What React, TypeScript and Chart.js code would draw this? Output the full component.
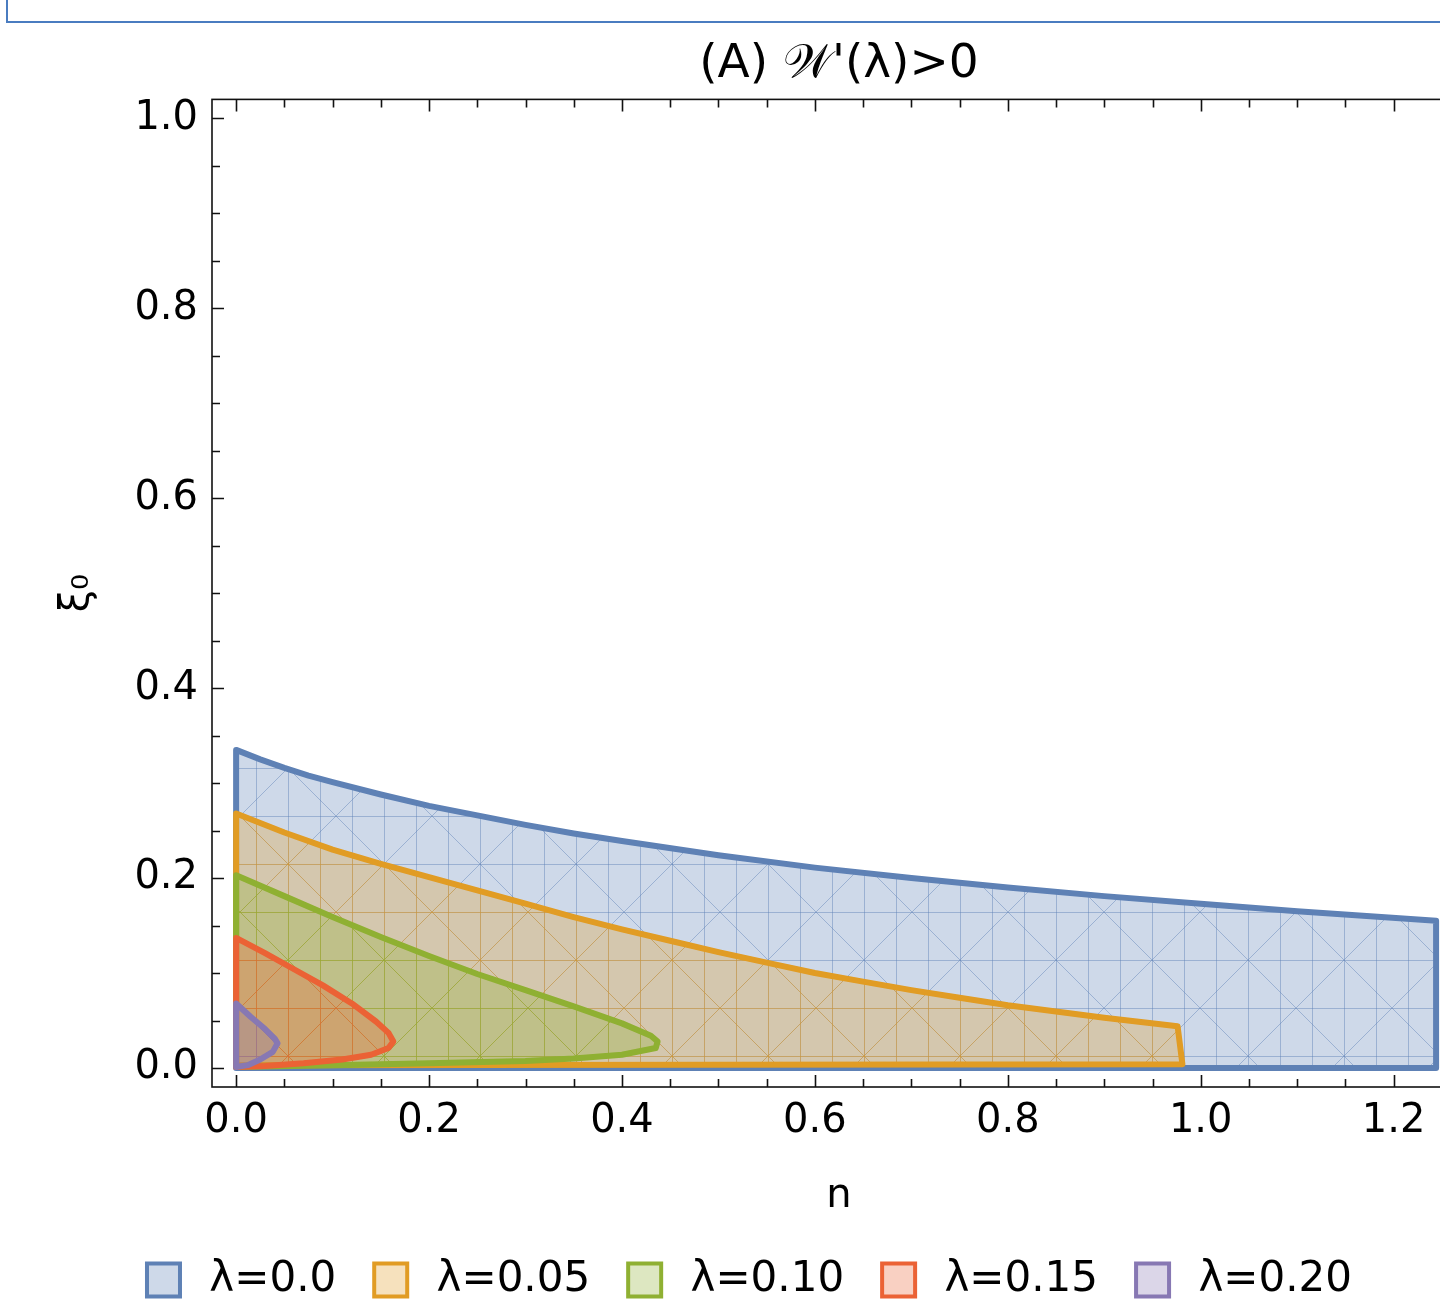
import React, { useEffect, useRef } from 'react';
import { Chart, registerables } from 'chart.js';

Chart.register(...registerables);

// ---------- data ----------
const seriesLabels = ['λ=0.0', 'λ=0.05', 'λ=0.10', 'λ=0.15', 'λ=0.20'];
const seriesColors = ['#5e81b5', '#e19c24', '#8fb032', '#eb6235', '#8778b3'];

// region outlines, (n, ξ0) pairs, traced as closed loops
const blueN = [0, 0, 0.025, 0.05, 0.075, 0.1, 0.15, 0.2, 0.25, 0.3, 0.35, 0.4, 0.5, 0.6, 0.7, 0.8, 0.9, 1.0, 1.1, 1.244, 1.244, 0];
const blueXi = [0, 0.335, 0.325, 0.316, 0.308, 0.301, 0.288, 0.276, 0.266, 0.256, 0.247, 0.239, 0.224, 0.211, 0.2, 0.19, 0.181, 0.173, 0.165, 0.155, 0, 0];

const orangeN = [0, 0, 0.025, 0.05, 0.1, 0.15, 0.2, 0.25, 0.3, 0.35, 0.4, 0.45, 0.5, 0.55, 0.6, 0.65, 0.7, 0.75, 0.8, 0.85, 0.9, 0.976, 0.981, 0];
const orangeXi = [0.003, 0.268, 0.258, 0.248, 0.23, 0.215, 0.201, 0.187, 0.173, 0.159, 0.146, 0.134, 0.122, 0.111, 0.1, 0.091, 0.082, 0.074, 0.066, 0.0595, 0.053, 0.044, 0.004, 0.003];

const greenN = [0, 0, 0.05, 0.1, 0.15, 0.2, 0.25, 0.3, 0.35, 0.4, 0.43, 0.437, 0.435, 0.4, 0.35, 0.3, 0.2, 0.1, 0];
const greenXi = [0.001, 0.203, 0.181, 0.159, 0.138, 0.118, 0.099, 0.082, 0.065, 0.047, 0.034, 0.028, 0.021, 0.014, 0.01, 0.0075, 0.005, 0.003, 0.001];

const redN = [0, 0, 0.03, 0.06, 0.09, 0.12, 0.145, 0.158, 0.163, 0.158, 0.14, 0.11, 0.07, 0.03, 0];
const redXi = [0.001, 0.137, 0.121, 0.104, 0.087, 0.068, 0.049, 0.037, 0.028, 0.021, 0.014, 0.009, 0.005, 0.002, 0.001];

const purpleN = [0, 0, 0.015, 0.03, 0.04, 0.043, 0.038, 0.025, 0.012, 0];
const purpleXi = [0.001, 0.068, 0.054, 0.041, 0.031, 0.026, 0.017, 0.009, 0.003, 0.001];

const seriesN = [blueN, orangeN, greenN, redN, purpleN];
const seriesXi = [blueXi, orangeXi, greenXi, redXi, purpleXi];

// ticks
const xMajorTicks = [0, 0.2, 0.4, 0.6, 0.8, 1.0, 1.2];
const xMinorTicks = [0.05, 0.1, 0.15, 0.25, 0.3, 0.35, 0.45, 0.5, 0.55, 0.65, 0.7, 0.75, 0.85, 0.9, 0.95, 1.05, 1.1, 1.15, 1.25];
const yMajorTicks = [0, 0.2, 0.4, 0.6, 0.8, 1.0];
const yMinorTicks = [0.05, 0.1, 0.15, 0.25, 0.3, 0.35, 0.45, 0.5, 0.55, 0.65, 0.7, 0.75, 0.85, 0.9, 0.95];

const titleText = "(A) 𝒲'(λ)>0";
const xTitle = 'n';
const yTitle = 'ξ₀';

// ---------- layout constants ----------
const CW = 1499;
const CH = 1311;
const AREA_LEFT = 212;
const AREA_RIGHT = 1466;
const FONT = "'DejaVu Sans', 'Liberation Sans', sans-serif";

function rgb(hex: string): [number, number, number] {
  const h = hex.replace('#', '');
  return [parseInt(h.slice(0, 2), 16), parseInt(h.slice(2, 4), 16), parseInt(h.slice(4, 6), 16)];
}
function rgba(hex: string, a: number) {
  const [r, g, b] = rgb(hex);
  return `rgba(${r},${g},${b},${a})`;
}

function makeMeshPattern(hex: string): CanvasPattern | string {
  const w = 96;
  const h = 96;
  const c = document.createElement('canvas');
  c.width = w;
  c.height = h;
  const g = c.getContext('2d');
  if (!g) return rgba(hex, 0.3);
  g.fillStyle = rgba(hex, 0.3);
  g.fillRect(0, 0, w, h);
  g.strokeStyle = rgba(hex, 0.45);
  g.lineWidth = 1;
  g.beginPath();
  [0, 32, 64].forEach((vx) => {
    g.moveTo(vx + 0.5, 0);
    g.lineTo(vx + 0.5, h);
  });
  [0, 48].forEach((hy) => {
    g.moveTo(0, hy + 0.5);
    g.lineTo(w, hy + 0.5);
  });
  g.moveTo(0, h);
  g.lineTo(w, 0);
  g.moveTo(0, 0);
  g.lineTo(w, h);
  g.stroke();
  const p = g.createPattern(c, 'repeat');
  return p || rgba(hex, 0.3);
}

const framePlugin = {
  id: 'mmaFrame',
  afterDatasetsDraw(chart: any) {
    const { ctx, chartArea: a, scales } = chart;
    const x = scales.x;
    const y = scales.y;
    ctx.save();
    ctx.strokeStyle = '#111';
    ctx.lineWidth = 1.6;
    ctx.strokeRect(a.left, a.top, a.right - a.left, a.bottom - a.top);
    ctx.beginPath();
    const xt = (v: number, len: number) => {
      const px = Math.round(x.getPixelForValue(v)) + 0.5;
      ctx.moveTo(px, a.bottom);
      ctx.lineTo(px, a.bottom - len);
      ctx.moveTo(px, a.top);
      ctx.lineTo(px, a.top + len);
    };
    const yt = (v: number, len: number) => {
      const py = Math.round(y.getPixelForValue(v)) + 0.5;
      ctx.moveTo(a.left, py);
      ctx.lineTo(a.left + len, py);
      ctx.moveTo(a.right, py);
      ctx.lineTo(a.right - len, py);
    };
    xMajorTicks.forEach((v) => xt(v, 12));
    xMinorTicks.forEach((v) => xt(v, 8));
    yMajorTicks.forEach((v) => yt(v, 12));
    yMinorTicks.forEach((v) => yt(v, 8));
    ctx.stroke();
    ctx.restore();
  },
};

export default function App() {
  const ref = useRef<HTMLCanvasElement | null>(null);

  useEffect(() => {
    const canvas = ref.current;
    if (!canvas) return;

    const datasets = seriesLabels.map((label, i) => ({
      label,
      data: seriesN[i].map((n, k) => ({ x: n, y: seriesXi[i][k] })),
      showLine: true,
      fill: 'shape' as any,
      backgroundColor: makeMeshPattern(seriesColors[i]) as any,
      borderColor: seriesColors[i],
      borderWidth: 6,
      borderJoinStyle: 'round' as const,
      borderCapStyle: 'round' as const,
      pointRadius: 0,
      pointHoverRadius: 0,
      tension: 0,
      order: seriesLabels.length - 1 - i,
    }));

    const chart = new Chart(canvas, {
      type: 'scatter',
      data: { datasets },
      options: {
        responsive: false,
        animation: false,
        devicePixelRatio: 1,
        events: [],
        layout: { padding: 0 },
        scales: {
          x: {
            type: 'linear',
            position: 'bottom',
            min: -0.025,
            max: 1.275,
            grid: { display: false, drawTicks: false },
            border: { display: false },
            ticks: {
              stepSize: 0.2,
              includeBounds: false,
              padding: 11,
              color: '#000',
              maxRotation: 0,
              autoSkip: false,
              font: { family: FONT, size: 40 },
              callback: (v: any) => Number(v).toFixed(1),
            },
            title: {
              display: true,
              text: xTitle,
              color: '#000',
              font: { family: FONT, size: 40 },
              padding: { top: 0, bottom: 0 },
            },
            afterFit: (s: any) => {
              s.height = 134;
            },
          },
          y: {
            type: 'linear',
            position: 'left',
            min: -0.02,
            max: 1.02,
            grid: { display: false, drawTicks: false },
            border: { display: false },
            ticks: {
              stepSize: 0.2,
              includeBounds: false,
              padding: 14,
              color: '#000',
              autoSkip: false,
              font: { family: FONT, size: 40 },
              callback: (v: any) => Number(v).toFixed(1),
            },
            title: {
              display: true,
              text: yTitle,
              color: '#000',
              font: { family: FONT, size: 40 },
              padding: { top: 54, bottom: 0 },
            },
            afterFit: (s: any) => {
              s.width = AREA_LEFT;
            },
          },
          yR: {
            type: 'linear',
            position: 'right',
            display: true,
            grid: { display: false, drawTicks: false },
            border: { display: false },
            ticks: { display: false },
            afterFit: (s: any) => {
              s.width = CW - AREA_RIGHT;
            },
          },
        },
        plugins: {
          title: {
            display: true,
            text: titleText,
            fullSize: false,
            color: '#000',
            font: { family: FONT, size: 47, weight: 'normal' as any },
            padding: { top: 37, bottom: 6 },
          },
          legend: {
            position: 'bottom',
            labels: {
              boxWidth: 33,
              boxHeight: 33,
              padding: 38,
              color: '#000',
              font: { family: FONT, size: 42 },
              generateLabels: (c: any) => {
                const items = (Chart.defaults.plugins.legend.labels as any).generateLabels(c);
                return items.map((it: any) => ({
                  ...it,
                  text: '\u2009' + it.text,
                  fillStyle: rgba(seriesColors[it.datasetIndex], 0.3),
                  strokeStyle: seriesColors[it.datasetIndex],
                  lineWidth: 4,
                  lineJoin: 'miter',
                }));
              },
              sort: (a: any, b: any) => a.datasetIndex - b.datasetIndex,
            },
          },
          tooltip: { enabled: false },
        },
      },
      plugins: [framePlugin],
    });

    return () => {
      chart.destroy();
    };
  }, []);

  return (
    <div
      style={{
        position: 'absolute',
        left: 0,
        top: 0,
        width: 1440,
        height: 1302,
        overflow: 'hidden',
        background: '#fff',
      }}
    >
      <div
        style={{
          position: 'absolute',
          left: 6,
          top: -20,
          width: 1500,
          height: 43,
          boxSizing: 'border-box',
          border: '2px solid #4a7cc0',
        }}
      />
      <canvas
        ref={ref}
        width={CW}
        height={CH}
        style={{ position: 'absolute', left: 0, top: 0, width: CW, height: CH, display: 'block' }}
      />
    </div>
  );
}
